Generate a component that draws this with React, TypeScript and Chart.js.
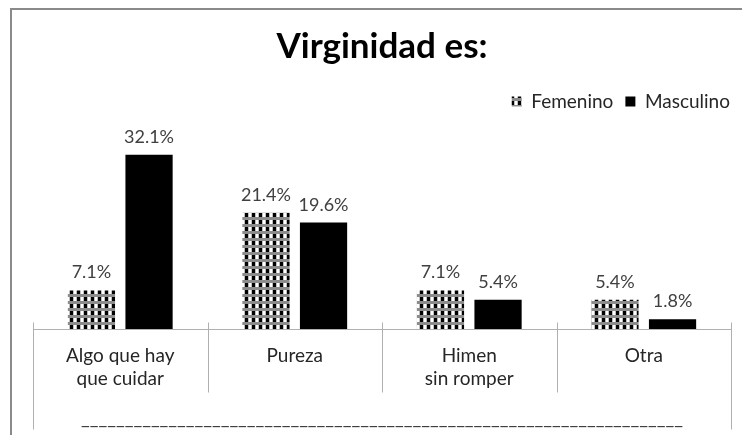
import { useEffect, useRef } from "react";
import { Chart, registerables } from "chart.js";

Chart.register(...registerables);

const TITLE = "Virginidad es:";
const CATEGORIES = [["Algo que hay", "que cuidar"], ["Pureza"], ["Himen", "sin romper"], ["Otra"]];
const SERIES_NAMES = ["Femenino", "Masculino"];
const FEMENINO = [7.1, 21.4, 7.1, 5.4];
const MASCULINO = [32.1, 19.6, 5.4, 1.8];
const GROUP_LABEL = "_".repeat(69);

const FONT = "Lato, 'Open Sans', sans-serif";

function makePattern(): CanvasPattern | string {
  const c = document.createElement("canvas");
  c.width = 7;
  c.height = 7;
  const g = c.getContext("2d");
  if (!g) return "#888";
  g.fillStyle = "#ffffff";
  g.fillRect(0, 0, 7, 7);
  g.fillStyle = "#8c8c8c";
  g.fillRect(0, 0, 7, 3);
  g.fillStyle = "#c0c0c0";
  g.fillRect(3, 3, 1, 4);
  g.fillRect(6, 3, 1, 4);
  g.fillStyle = "#000000";
  g.fillRect(0, 3, 3, 4);
  return g.createPattern(c, "repeat") || "#888";
}

const frame = {
  id: "frame",
  beforeDraw(chart: any) {
    const ctx = chart.ctx;
    ctx.save();
    ctx.fillStyle = "#ffffff";
    ctx.fillRect(0, 0, chart.width, chart.height);
    ctx.strokeStyle = "#8a8a8a";
    ctx.lineWidth = 2;
    ctx.beginPath();
    ctx.moveTo(11, chart.height + 5);
    ctx.lineTo(11, 9);
    ctx.lineTo(chart.width + 5, 9);
    ctx.stroke();
    ctx.restore();
  },
};

const valueLabels = {
  id: "valueLabels",
  afterDatasetsDraw(chart: any) {
    const ctx = chart.ctx;
    ctx.save();
    ctx.font = `18px ${FONT}`;
    ctx.fillStyle = "#404040";
    ctx.textAlign = "center";
    ctx.textBaseline = "alphabetic";
    chart.data.datasets.forEach((ds: any, i: number) => {
      chart.getDatasetMeta(i).data.forEach((bar: any, j: number) => {
        ctx.fillText(ds.data[j].toFixed(1) + "%", bar.x, bar.y - 12);
      });
    });
    ctx.restore();
  },
};

const axisDecor = {
  id: "axisDecor",
  afterDraw(chart: any) {
    const ctx = chart.ctx;
    const xs = chart.scales.x;
    const area = chart.chartArea;
    const base = Math.round(area.bottom) + 0.5;
    const n = chart.data.labels.length;
    ctx.save();
    ctx.strokeStyle = "#b0b0b0";
    ctx.lineWidth = 1;
    ctx.beginPath();
    ctx.moveTo(area.left, base);
    ctx.lineTo(area.right, base);
    for (let i = 0; i <= n; i++) {
      const px = Math.round(xs.getPixelForValue(i - 0.5)) + 0.5;
      const outer = i === 0 || i === n;
      ctx.moveTo(px, base - 7);
      ctx.lineTo(px, base + (outer ? 100 : 63));
    }
    ctx.stroke();
    ctx.font = `19px ${FONT}`;
    ctx.fillStyle = "#404040";
    ctx.textAlign = "center";
    ctx.textBaseline = "alphabetic";
    ctx.fillText(GROUP_LABEL, (area.left + area.right) / 2, base + 94);
    ctx.restore();
  },
};

export default function App() {
  const ref = useRef<HTMLCanvasElement | null>(null);
  useEffect(() => {
    if (!ref.current) return;
    const pattern = makePattern();
    const chart = new Chart(ref.current, {
      type: "bar",
      data: {
        labels: CATEGORIES,
        datasets: [
          {
            label: SERIES_NAMES[0],
            data: FEMENINO,
            backgroundColor: pattern as any,
            borderWidth: 0,
            categoryPercentage: 0.66,
            barPercentage: 0.82,
          },
          {
            label: SERIES_NAMES[1],
            data: MASCULINO,
            backgroundColor: "#000000",
            borderWidth: 0,
            categoryPercentage: 0.66,
            barPercentage: 0.82,
          },
        ],
      },
      options: {
        animation: false,
        responsive: true,
        maintainAspectRatio: false,
        layout: { padding: { left: 22, right: 0, top: 0, bottom: 0 } },
        plugins: {
          title: {
            display: true,
            text: TITLE,
            color: "#000000",
            font: { family: FONT, size: 35, weight: "bold" },
            padding: { top: 26, bottom: 12 },
          },
          legend: {
            display: true,
            position: "top",
            align: "end",
            labels: {
              boxWidth: 10,
              boxHeight: 10,
              color: "#262626",
              font: { family: FONT, size: 19 },
              padding: 12,
            },
          },
          tooltip: { enabled: false },
        },
        scales: {
          x: {
            offset: true,
            grid: { display: false },
            border: { display: false },
            ticks: {
              color: "#262626",
              font: { family: FONT, size: 19, lineHeight: 1.21 },
              padding: 7,
              maxRotation: 0,
              autoSkip: false,
            },
            afterFit: (s: any) => {
              s.height = 106;
            },
          },
          y: {
            display: true,
            min: 0,
            max: 38.3,
            grid: { display: false },
            border: { display: false },
            ticks: { display: false },
            afterFit: (s: any) => {
              s.width = 11;
            },
          },
          yRight: {
            type: "linear",
            position: "right",
            display: true,
            grid: { display: false },
            border: { display: false },
            ticks: { display: false },
            afterFit: (s: any) => {
              s.width = 11;
            },
          },
        },
      },
      plugins: [frame, valueLabels, axisDecor],
    });
    return () => chart.destroy();
  }, []);
  return (
    <div style={{ position: "fixed", left: 0, top: 0, width: 742, height: 435 }}>
      <canvas ref={ref} />
    </div>
  );
}
